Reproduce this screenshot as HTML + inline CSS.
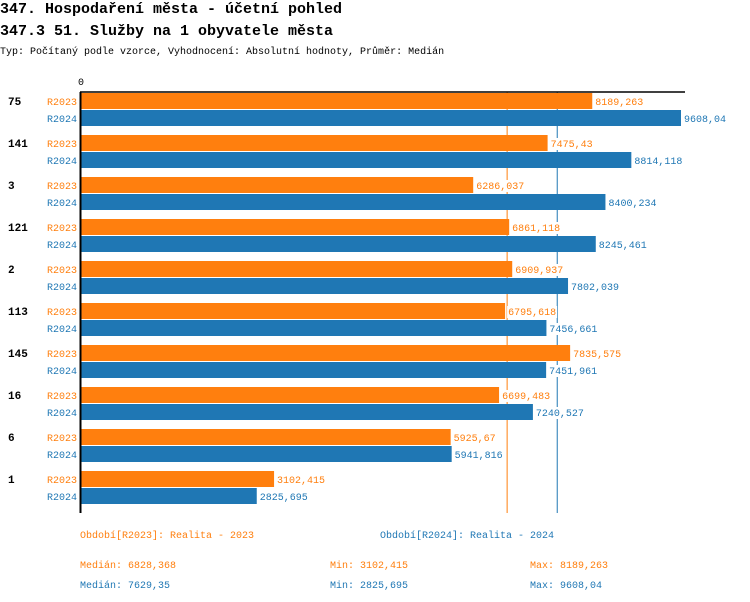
<!DOCTYPE html>
<html><head><meta charset="utf-8"><style>
body{margin:0;background:#fff;width:750px;height:602px;overflow:hidden}
svg{display:block}
text{font-family:"Liberation Mono","DejaVu Sans Mono",monospace}
</style></head><body>
<svg width="750" height="602" xmlns="http://www.w3.org/2000/svg">
<text x="0" y="13" font-size="15" font-weight="bold">347. Hospodaření města - účetní pohled</text>
<text x="0" y="35" font-size="15" font-weight="bold">347.3 51. Služby na 1 obyvatele města</text>
<text x="0" y="54" font-size="10">Typ: Počítaný podle vzorce, Vyhodnocení: Absolutní hodnoty, Průměr: Medián</text>
<text x="78" y="85" font-size="10">0</text>
<g id="bars"></g>
<line x1="80" y1="92" x2="685" y2="92" stroke="#000" stroke-width="1.5"/>
<line x1="80.5" y1="92" x2="80.5" y2="513" stroke="#000" stroke-width="2"/>
<g font-size="10">
<text x="80" y="538" fill="#ff7f0e">Období[R2023]: Realita - 2023</text>
<text x="380" y="538" fill="#1f77b4">Období[R2024]: Realita - 2024</text>
<text x="80" y="568" fill="#ff7f0e">Medián: 6828,368</text>
<text x="330" y="568" fill="#ff7f0e">Min: 3102,415</text>
<text x="530" y="568" fill="#ff7f0e">Max: 8189,263</text>
<text x="80" y="588" fill="#1f77b4">Medián: 7629,35</text>
<text x="330" y="588" fill="#1f77b4">Min: 2825,695</text>
<text x="530" y="588" fill="#1f77b4">Max: 9608,04</text>
</g>
</svg>
<script>
var d=[["75",8189.263,"8189,263",9608.04,"9608,04"],["141",7475.43,"7475,43",8814.118,"8814,118"],["3",6286.037,"6286,037",8400.234,"8400,234"],["121",6861.118,"6861,118",8245.461,"8245,461"],["2",6909.937,"6909,937",7802.039,"7802,039"],["113",6795.618,"6795,618",7456.661,"7456,661"],["145",7835.575,"7835,575",7451.961,"7451,961"],["16",6699.483,"6699,483",7240.527,"7240,527"],["6",5925.67,"5925,67",5941.816,"5941,816"],["1",3102.415,"3102,415",2825.695,"2825,695"]];
var k=601/9608.04,s="",lab="";
s+='<line x1="'+(80+6828.368*k)+'" y1="92" x2="'+(80+6828.368*k)+'" y2="513" stroke="#ff7f0e" stroke-width="1"/>';
s+='<line x1="'+(80+7629.35*k)+'" y1="92" x2="'+(80+7629.35*k)+'" y2="513" stroke="#1f77b4" stroke-width="1"/>';
d.forEach(function(r,i){var y=93+42*i;
s+='<rect x="81" y="'+y+'" width="'+(r[1]*k-1)+'" height="16" fill="#ff7f0e"/>';
s+='<rect x="81" y="'+(y+17)+'" width="'+(r[3]*k-1)+'" height="16" fill="#1f77b4"/>';
lab+='<text x="8" y="'+(y+12)+'" font-size="11" font-weight="bold">'+r[0]+'</text>';
lab+='<text x="47" y="'+(y+12)+'" font-size="10" fill="#ff7f0e">R2023</text>';
lab+='<text x="47" y="'+(y+29)+'" font-size="10" fill="#1f77b4">R2024</text>';
[[r[1],r[2],y,"#ff7f0e"],[r[3],r[4],y+17,"#1f77b4"]].forEach(function(q){var x=80+q[0]*k+2,w=q[1].length*6+2;
lab+='<rect x="'+x+'" y="'+(q[2]+3)+'" width="'+w+'" height="12" fill="#fff"/>';
lab+='<text x="'+(x+1)+'" y="'+(q[2]+12)+'" font-size="10" fill="'+q[3]+'">'+q[1]+'</text>';});
});
document.getElementById("bars").innerHTML=s+lab;
</script>
</body></html>
